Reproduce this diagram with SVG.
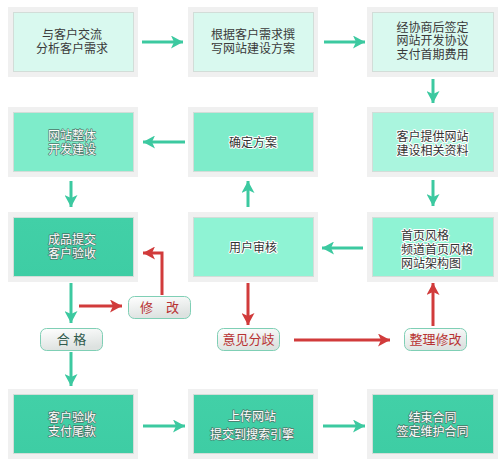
<svg xmlns="http://www.w3.org/2000/svg" width="501" height="465" viewBox="0 0 501 465">
<style>
text{font-family:"Liberation Sans","Noto Sans CJK SC",sans-serif;font-size:12px;text-anchor:middle}
.frame{fill:#f0f0f0}
.in{stroke:#d2ddd8;stroke-width:1}
.r1{fill:#d9f9ef}
.r2{fill:#7eecca}
.r2b{fill:#aaf5de}
.r3{fill:#8ff3d4}
.dk{fill:#3a3a3a}
.dh{fill:#333;stroke:#fff;stroke-width:2;paint-order:stroke;stroke-linejoin:round}
.wh{fill:#fff;stroke:#4d7568;stroke-width:1.3;paint-order:stroke;stroke-linejoin:round}
.g{stroke:#3cc9a0;stroke-width:3;fill:none}
.r{stroke:#d13b3b;stroke-width:3;fill:none}
.pill{fill:url(#pg);stroke:#7fcfb5;stroke-width:1}
.pt{font-size:13px;fill:#b83232}
.pg{font-size:13px;fill:#2f5a4c}
</style>
<defs>
<linearGradient id="pg" x1="0" y1="0" x2="0.3" y2="1">
<stop offset="0" stop-color="#ffffff"/>
<stop offset="1" stop-color="#dde2e0"/>
</linearGradient>
<linearGradient id="dg" x1="0" y1="0" x2="0" y2="1">
<stop offset="0" stop-color="#42d0a7"/>
<stop offset="1" stop-color="#3ecda4"/>
</linearGradient>
<marker id="ag" markerUnits="userSpaceOnUse" markerWidth="12" markerHeight="13" refX="12" refY="6.5" orient="auto" viewBox="0 0 12 13">
<path d="M0,0 L12,6.5 L0,13 L3,6.5 z" fill="#3cc9a0"/>
</marker>
<marker id="ar" markerUnits="userSpaceOnUse" markerWidth="12" markerHeight="13" refX="12" refY="6.5" orient="auto" viewBox="0 0 12 13">
<path d="M0,0 L12,6.5 L0,13 L3,6.5 z" fill="#d13b3b"/>
</marker>
</defs>
<rect width="501" height="465" fill="#fff"/>

<g id="n1"><rect class="frame" x="8" y="7" width="130" height="70"/><rect class="in r1" x="13.5" y="12.5" width="120" height="59"/>
<text class="dk" x="72" y="38.5">与客户交流<tspan x="72" dy="14.5">分析客户需求</tspan></text></g>
<g id="n2"><rect class="frame" x="188" y="7" width="130" height="70"/><rect class="in r1" x="193.5" y="12.5" width="120" height="59"/>
<text class="dk" x="253" y="38.5">根据客户需求撰<tspan x="253" dy="14.5">写网站建设方案</tspan></text></g>
<g id="n3"><rect class="frame" x="367" y="7" width="131" height="70"/><rect class="in r1" x="372.5" y="12.5" width="121" height="59"/>
<text class="dk" x="432.5" y="31.5">经协商后签定<tspan x="432.5" dy="13.8">网站开发协议</tspan><tspan x="432.5" dy="13.8">支付首期费用</tspan></text></g>

<g id="n4"><rect class="frame" x="8" y="107" width="130" height="70"/><rect class="in r2" x="13.5" y="112.5" width="120" height="59"/>
<text class="wh" x="72" y="140">网站整体<tspan x="72" dy="14">开发建设</tspan></text></g>
<g id="n5"><rect class="frame" x="188" y="107" width="130" height="70"/><rect class="in r2" x="193.5" y="112.5" width="120" height="59"/>
<text class="dh" x="253" y="147">确定方案</text></g>
<g id="n6"><rect class="frame" x="367" y="107" width="131" height="70"/><rect class="in r2b" x="372.5" y="112.5" width="121" height="59"/>
<text class="dh" x="432.5" y="141">客户提供网站<tspan x="432.5" dy="14">建设相关资料</tspan></text></g>

<g id="n7"><rect class="frame" x="8" y="212" width="130" height="70"/><rect class="in" fill="url(#dg)" x="13.5" y="217.5" width="120" height="59"/>
<text class="wh" x="72" y="244">成品提交<tspan x="72" dy="14">客户验收</tspan></text></g>
<g id="n8"><rect class="frame" x="188" y="212" width="130" height="70"/><rect class="in r3" x="193.5" y="217.5" width="120" height="59"/>
<text class="dh" x="253" y="252">用户审核</text></g>
<g id="n9"><rect class="frame" x="367" y="212" width="131" height="70"/><rect class="in r3" x="372.5" y="217.5" width="121" height="59"/>
<text class="dh" style="text-anchor:start" x="401" y="240">首页风格<tspan x="401" dy="14">频道首页风格</tspan><tspan x="401" dy="14">网站架构图</tspan></text></g>

<g id="n10"><rect class="frame" x="8" y="389" width="130" height="70"/><rect class="in" fill="url(#dg)" x="13.5" y="394.5" width="120" height="59"/>
<text class="wh" x="72" y="422">客户验收<tspan x="72" dy="14">支付尾款</tspan></text></g>
<g id="n11"><rect class="frame" x="188" y="389" width="130" height="70"/><rect class="in" fill="url(#dg)" x="193.5" y="394.5" width="120" height="59"/>
<text class="wh" x="252" y="421">上传网站<tspan x="252" dy="18">提交到搜索引擎</tspan></text></g>
<g id="n12"><rect class="frame" x="367" y="389" width="131" height="70"/><rect class="in" fill="url(#dg)" x="372.5" y="394.5" width="121" height="59"/>
<text class="wh" x="432.5" y="422">结束合同<tspan x="432.5" dy="14">签定维护合同</tspan></text></g>

<g id="p1"><rect class="pill" x="128.5" y="296.5" width="62" height="22" rx="6"/><text class="pt" x="159.5" y="312">修　改</text></g>
<g id="p2"><rect class="pill" x="40.5" y="328.5" width="62" height="22" rx="6"/><text class="pg" x="71.5" y="344">合 格</text></g>
<g id="p3"><rect class="pill" x="217.5" y="328.5" width="62" height="22" rx="6"/><text class="pt" x="248.5" y="344">意见分歧</text></g>
<g id="p4"><rect class="pill" x="404.5" y="328.5" width="62" height="22" rx="6"/><text class="pt" x="435.5" y="344">整理修改</text></g>

<g id="connectors">
<line class="g" x1="142" y1="42" x2="183" y2="42" marker-end="url(#ag)"/>
<line class="g" x1="324" y1="42" x2="365" y2="42" marker-end="url(#ag)"/>
<line class="g" x1="433" y1="79" x2="433" y2="103" marker-end="url(#ag)"/>
<line class="g" x1="185" y1="142" x2="143" y2="142" marker-end="url(#ag)"/>
<line class="g" x1="71" y1="181" x2="71" y2="207" marker-end="url(#ag)"/>
<line class="g" x1="433" y1="180" x2="433" y2="206" marker-end="url(#ag)"/>
<line class="g" x1="248" y1="207" x2="248" y2="181" marker-end="url(#ag)"/>
<line class="g" x1="363" y1="248" x2="322" y2="248" marker-end="url(#ag)"/>
<line class="g" x1="71" y1="283" x2="71" y2="323" marker-end="url(#ag)"/>
<line class="g" x1="71" y1="352" x2="71" y2="386" marker-end="url(#ag)"/>
<line class="g" x1="143" y1="426" x2="185" y2="426" marker-end="url(#ag)"/>
<line class="g" x1="323" y1="426" x2="365" y2="426" marker-end="url(#ag)"/>
<line class="r" x1="79" y1="306" x2="122" y2="306" marker-end="url(#ar)"/>
<polyline class="r" points="162,295 162,253 143,253" marker-end="url(#ar)"/>
<line class="r" x1="248" y1="283" x2="248" y2="325" marker-end="url(#ar)"/>
<line class="r" x1="294" y1="340" x2="390" y2="340" marker-end="url(#ar)"/>
<line class="r" x1="433" y1="326" x2="433" y2="283" marker-end="url(#ar)"/>
</g>
</svg>
